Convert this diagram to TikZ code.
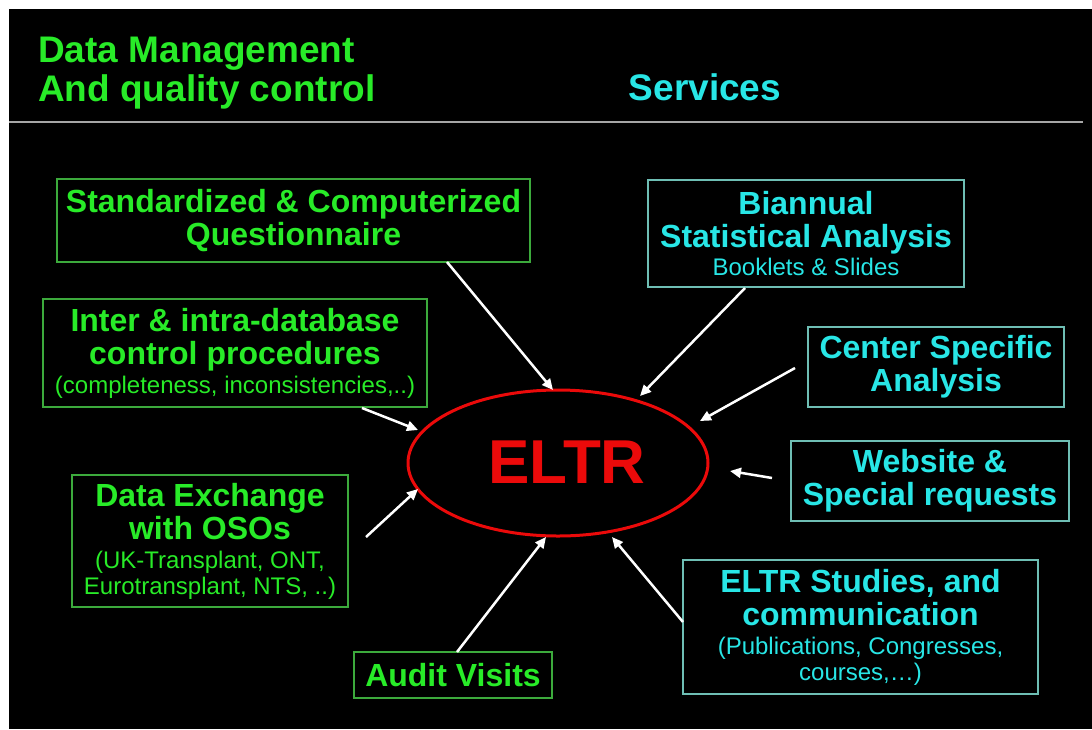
\documentclass[tikz,border=0pt]{standalone}
\usepackage{fontspec}
\setmainfont{Liberation Sans}
\usetikzlibrary{arrows.meta,shapes.geometric}
\definecolor{grtext}{RGB}{40,235,40}
\definecolor{grline}{RGB}{60,170,60}
\definecolor{cytext}{RGB}{40,230,230}
\definecolor{cyline}{RGB}{110,190,180}
\definecolor{eltrred}{RGB}{235,10,10}
\newcommand{\bigtxt}{\fontsize{32}{33}\selectfont\bfseries}
\newcommand{\smalltxt}{\fontsize{24}{26}\selectfont\mdseries}
\tikzset{
  gbox/.style={draw=grline, line width=1.3pt, text=grtext, align=center, inner sep=0pt, font=\bigtxt},
  cbox/.style={draw=cyline, line width=1.3pt, text=cytext, align=center, inner sep=0pt, font=\bigtxt},
  feed/.style={draw=white, line width=2.5pt, -{Triangle[length=11pt,width=10pt]}}
}

\begin{document}
\begin{tikzpicture}[x=1pt,y=-1pt]
	\fill[white] (0,0) rectangle (1092,729);
	\fill[black] (9,9) rectangle (1092,729);
	\useasboundingbox (0,0) rectangle (1092,729);
	
	% headings
	\node[anchor=base west, align=left, text=grtext, inner sep=0pt, font=\fontsize{37}{39}\selectfont\bfseries] (hdata) at (38,101) {Data Management\\And quality control};
	\node[anchor=base, text=cytext, inner sep=0pt, font=\fontsize{37}{39}\selectfont\bfseries] (hserv) at (705,100) {Services};
	\draw[line width=2pt, color=black!35] (9,122) -- (1083,122);
	
	% centre
	\node[ellipse, draw=eltrred, line width=3pt, minimum width=300, minimum height=146] (eltr) at (558,463) {};
	\node[anchor=base, text=eltrred, inner sep=0pt, font=\fontsize{62}{62}\selectfont\bfseries] (eltrtxt) at (567,483) {ELTR};
	
	% data management side
	\node[gbox, minimum width=473, minimum height=83] (quest) at (293.5,220.5) {Standardized \& Computerized\\Questionnaire};
	\node[gbox, minimum width=384, minimum height=108] (ctrl) at (235,353) {Inter \& intra-database\\control procedures\\[-4pt]\smalltxt (completeness, inconsistencies,..)};
	\node[gbox, minimum width=276, minimum height=132] (osos) at (210,541) {Data Exchange\\with OSOs\\[-4pt]\smalltxt (UK-Transplant, ONT,\\[-7pt]\smalltxt Eurotransplant, NTS, ..)};
	\node[gbox, minimum width=198, minimum height=46] (audit) at (453,675) {Audit Visits};
	
	% services side
	\node[cbox, minimum width=316, minimum height=107] (stat) at (806,233.5) {Biannual\\Statistical Analysis\\[-5pt]\smalltxt Booklets \& Slides};
	\node[cbox, minimum width=256, minimum height=80] (centre) at (936,367) {Center Specific\\Analysis};
	\node[cbox, minimum width=278, minimum height=80] (web) at (930,481) {Website \&\\Special requests};
	\node[cbox, minimum width=355, minimum height=134] (study) at (860.5,627) {ELTR Studies, and\\communication\\[-4pt]\smalltxt (Publications, Congresses,\\[-7pt]\smalltxt courses,\dots)};
	
	% arrow ends
	\coordinate (s1) at (447,262);  \coordinate (t1) at (553,390);
	\coordinate (s2) at (745,288);  \coordinate (t2) at (640,396);
	\coordinate (s3) at (795,368);  \coordinate (t3) at (700,421);
	\coordinate (s4) at (772,478);  \coordinate (t4) at (730,471);
	\coordinate (s5) at (683,622);  \coordinate (t5) at (612,537);
	\coordinate (s6) at (457,652);  \coordinate (t6) at (546,537);
	\coordinate (s7) at (366,537);  \coordinate (t7) at (418,489);
	\coordinate (s8) at (362,408);  \coordinate (t8) at (418,430);
	
	\foreach \i in {1,...,8}
		\draw[feed] (s\i) -- (t\i);
\end{tikzpicture}
\end{document}
